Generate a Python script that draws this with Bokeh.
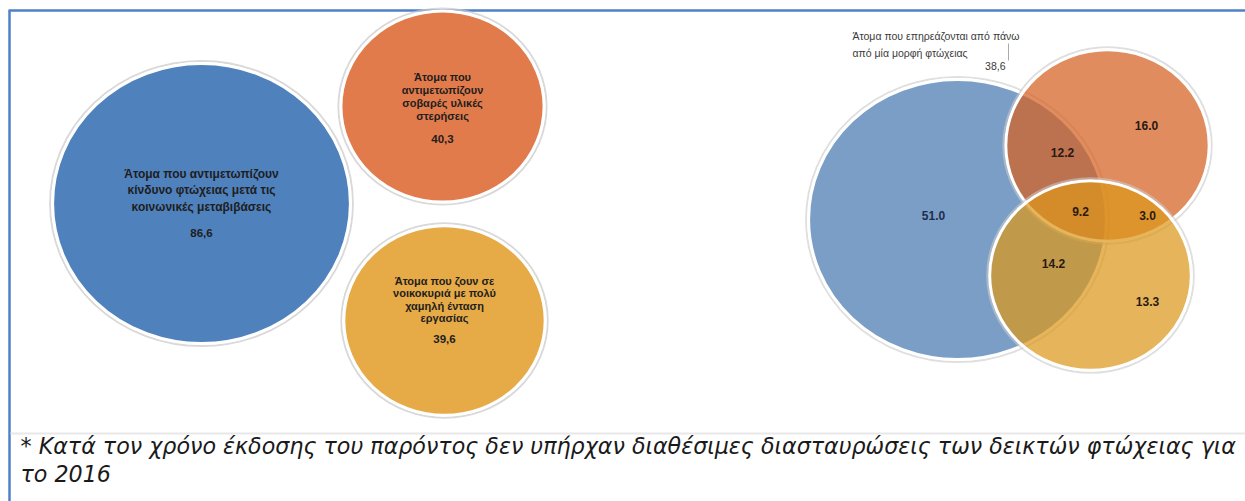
from bokeh.plotting import figure
from bokeh.models import Range1d, ColumnDataSource
from bokeh.embed import file_html
from bokeh.resources import INLINE
from bokeh.core.properties import value
import math

# ---------------- data ----------------
left_labels = [
    "Άτομα που αντιμετωπίζουν\nκίνδυνο φτώχειας μετά τις\nκοινωνικές μεταβιβάσεις",
    "Άτομα που\nαντιμετωπίζουν\nσοβαρές υλικές\nστερήσεις",
    "Άτομα που ζουν σε\nνοικοκυριά με πολύ\nχαμηλή ένταση\nεργασίας",
]
left_values = [86.6, 40.3, 39.6]
left_value_text = ["86,6", "40,3", "39,6"]

# Venn regions (risk of poverty = R, deprivation = D, low work intensity = W)
only_R = 51.0
only_D = 16.0
only_W = 13.3
R_D = 12.2
R_W = 14.2
D_W = 3.0
R_D_W = 9.2
overlap_label = "Άτομα που επηρεάζονται από πάνω\nαπό μία μορφή φτώχειας"
overlap_value_text = "38,6"

footnote = ["* Κατά τον χρόνο έκδοσης του παρόντος δεν υπήρχαν διαθέσιμες διασταυρώσεις των δεικτών φτώχειας για",
            "το 2016"]

# ---------------- layout ----------------
KX, KY = 16.0, 15.05
W, H = 1245, 501

p = figure(width=W, height=H, x_range=Range1d(0, W), y_range=Range1d(H, 0),
           x_axis_type=None, y_axis_type=None, output_backend="svg",
           toolbar_location=None, min_border=0)
p.outline_line_color = None
p.background_fill_color = "white"
p.border_fill_color = "white"

# frame lines
p.segment(x0=[8], y0=[10], x1=[W], y1=[10], line_color="#4f81c7", line_width=2.5)
p.segment(x0=[9], y0=[10], x1=[9], y1=[H], line_color="#4f81c7", line_width=2.5)
p.segment(x0=[10], y0=[433], x1=[W], y1=[433], line_color="#e8e8e8", line_width=2)

# ---- left bubbles ----
left_cx = [201, 442, 444]
left_cy = [203, 106, 320]
left_colors = ["#4f81bd", "#e27b4b", "#e6aa47"]
rx = [KX * math.sqrt(v) for v in left_values]
ry = [KY * math.sqrt(v) for v in left_values]
src = ColumnDataSource(dict(x=left_cx, y=left_cy, w=[2 * r for r in rx], h=[2 * r for r in ry],
                            w2=[2 * r + 5 for r in rx], h2=[2 * r + 5 for r in ry], c=left_colors))
p.ellipse(x="x", y="y", width="w2", height="h2", source=src, fill_color=None,
          line_color="#c9c9c9", line_width=2, line_alpha=0.7)
p.ellipse(x="x", y="y", width="w", height="h", source=src, fill_color="c",
          line_color="white", line_width=3)

lab_y = [190, 96, 299]
lab_size = ["12px", "11px", "11px"]
lab_lh = [1.2, 1.1, 1.05]
for i in range(3):
    p.text(x=[left_cx[i]], y=[lab_y[i]], text=[left_labels[i]], text_align="center",
           text_baseline="middle", text_font=value("Liberation Sans"), text_font_style="bold",
           text_font_size=lab_size[i], text_color="#1e1e1e", text_line_height=lab_lh[i])
val_y = [232, 138, 338]
p.text(x=left_cx, y=val_y, text=left_value_text, text_align="center", text_baseline="middle",
       text_font=value("Liberation Sans"), text_font_style="bold", text_font_size="11.5px",
       text_color="#1e1e1e")

# ---- Venn ----
tot_R = only_R + R_D + R_W + R_D_W
tot_D = only_D + R_D + D_W + R_D_W
tot_W = only_W + R_W + D_W + R_D_W
v_cx = [957, 1107, 1090]
v_cy = [219, 145, 275]
v_tot = [tot_R, tot_D, tot_W]
v_colors = ["#7a9ec6", "#d55f21", "#dc971a"]
v_alpha = [1.0, 0.72, 0.72]
for i in range(3):
    a = KX * math.sqrt(v_tot[i])
    b = KY * math.sqrt(v_tot[i])
    p.ellipse(x=[v_cx[i]], y=[v_cy[i]], width=[2 * a + 5], height=[2 * b + 5], fill_color=None,
              line_color="#c9c9c9", line_width=2, line_alpha=0.6)
    p.ellipse(x=[v_cx[i]], y=[v_cy[i]], width=[2 * a], height=[2 * b], fill_color=v_colors[i],
              fill_alpha=v_alpha[i], line_color="white", line_width=3)

reg_vals = [only_R, only_D, only_W, R_D, R_W, D_W, R_D_W]
reg_x = [933, 1146, 1147, 1062, 1053, 1147, 1080]
reg_y = [215, 125, 301, 152, 263, 215, 211]
reg_colors = ["#1f2d4d", "#2a1a12", "#2a1a12", "#2a1a12", "#2a1a12", "#2a1a12", "#2a1a12"]
p.text(x=reg_x, y=reg_y, text=[f"{v:.1f}" for v in reg_vals], text_align="center",
       text_baseline="middle", text_font=value("Liberation Sans"), text_font_style="bold",
       text_font_size="12px", text_color=reg_colors)

# overlap annotation
p.text(x=[852], y=[44], text=[overlap_label], text_align="left", text_baseline="middle",
       text_font=value("Liberation Sans"), text_font_size="10.5px", text_color="#3a3a3a",
       text_line_height=1.45)
p.text(x=[1005], y=[65], text=[overlap_value_text], text_align="right", text_baseline="middle",
       text_font=value("Liberation Sans"), text_font_size="10.5px", text_color="#3a3a3a")
p.segment(x0=[1008], y0=[43], x1=[1008], y1=[60], line_color="#aaaaaa", line_width=1)

# footnote
p.text(x=[20, 20], y=[445, 473], text=footnote, text_align="left", text_baseline="middle",
       text_font=value("DejaVu Sans"), text_font_style="italic", text_font_size="22.2px",
       text_color="#1a1a1a")

open("out.html", "w").write(file_html(p, INLINE))
